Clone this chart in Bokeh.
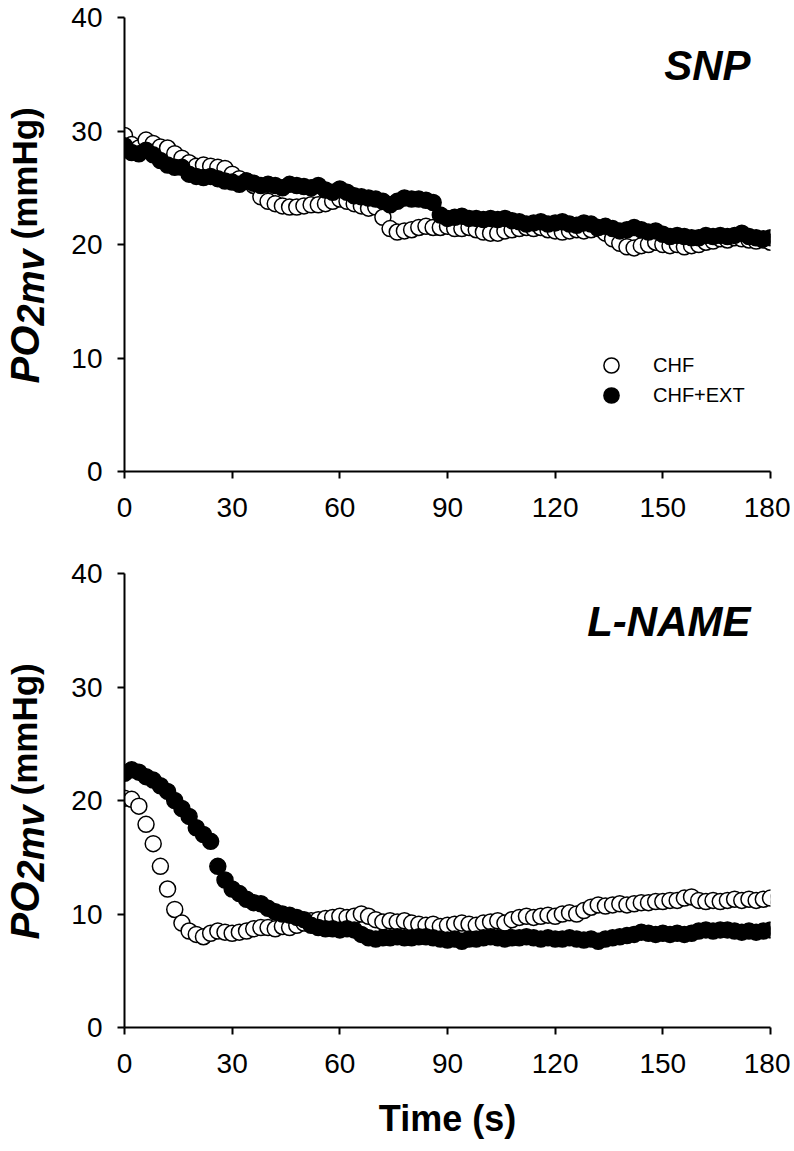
from math import pi
from bokeh.plotting import figure
from bokeh.models import Label, Legend, LegendItem, Range1d, FixedTicker, ColumnDataSource
from bokeh.layouts import column, row
from bokeh.embed import file_html
from bokeh.resources import INLINE

# ---------------- data ----------------
time_s = list(range(0, 181, 2))
x_ticks = [0, 30, 60, 90, 120, 150, 180]
y_ticks = [0, 10, 20, 30, 40]
series_labels = ["CHF", "CHF+EXT"]
panel_titles = ["SNP", "L-NAME"]
x_title = "Time (s)"
y_title_parts = ["PO", "2mv", "(mmHg)"]

snp_chf = [29.6, 28.8, 28.5, 29.2, 28.9, 28.6, 28.5, 28.0, 27.6, 27.2,
           26.9, 27.0, 26.9, 26.8, 26.7, 26.2, 25.8, 25.6, 25.2, 24.2,
           23.8, 23.6, 23.4, 23.3, 23.3, 23.4, 23.5, 23.5, 23.6, 23.8,
           24.0, 23.8, 23.6, 23.4, 23.2, 23.3, 22.4, 21.4, 21.1, 21.2,
           21.3, 21.5, 21.6, 21.5, 21.5, 21.6, 21.4, 21.4, 21.5, 21.3,
           21.1, 21.0, 21.0, 21.2, 21.3, 21.4, 21.5, 21.4, 21.5, 21.3,
           21.2, 21.1, 21.2, 21.3, 21.2, 21.3, 21.4, 21.0, 20.5, 20.1,
           19.8, 19.7, 19.9, 20.0, 20.2, 20.0, 19.9, 20.0, 19.8, 19.9,
           20.0, 20.2, 20.3, 20.5, 20.4, 20.6, 20.5, 20.4, 20.3, 20.4,
           20.2]
snp_chf_ext = [28.7, 28.1, 28.0, 28.3, 27.9, 27.4, 27.0, 26.8, 26.8, 26.2,
               26.0, 25.9, 26.0, 25.8, 25.6, 25.5, 25.3, 25.6, 25.4, 25.2,
               25.3, 25.2, 25.0, 25.3, 25.2, 25.1, 25.0, 25.2, 24.8, 24.6,
               24.9, 24.6, 24.3, 24.2, 24.1, 24.0, 23.8, 23.5, 23.8, 24.1,
               24.0, 24.0, 23.9, 23.7, 22.6, 22.3, 22.4, 22.5, 22.3, 22.3,
               22.2, 22.3, 22.2, 22.3, 22.1, 22.0, 21.8, 21.9, 22.0, 21.8,
               21.9, 22.0, 21.8, 21.7, 21.9, 21.8, 21.5, 21.6, 21.4, 21.2,
               21.3, 21.5, 21.3, 21.1, 21.2, 20.9, 20.7, 20.8, 20.7, 20.6,
               20.6, 20.8, 20.7, 20.8, 20.7, 20.8, 21.0, 20.7, 20.6, 20.5,
               20.6]
lname_chf = [20.2, 20.1, 19.5, 17.9, 16.2, 14.2, 12.2, 10.4, 9.2, 8.5,
             8.2, 8.0, 8.3, 8.5, 8.4, 8.3, 8.4, 8.5, 8.7, 8.8,
             8.8, 8.7, 8.9, 8.8, 9.0, 9.2, 9.4, 9.5, 9.6, 9.7,
             9.8, 9.7, 9.8, 10.0, 9.8, 9.5, 9.3, 9.4, 9.3, 9.4,
             9.2, 9.1, 9.0, 9.1, 8.9, 9.0, 9.1, 9.2, 9.1, 9.0,
             9.2, 9.3, 9.4, 9.2, 9.5, 9.7, 9.8, 9.7, 9.8, 9.9,
             9.8, 10.0, 10.1, 10.0, 10.3, 10.6, 10.8, 10.7, 10.8, 10.9,
             10.8, 10.9, 11.0, 11.0, 11.1, 11.1, 11.2, 11.2, 11.4, 11.5,
             11.2, 11.1, 11.2, 11.1, 11.2, 11.3, 11.2, 11.3, 11.2, 11.3,
             11.4]
lname_chf_ext = [22.4, 22.7, 22.5, 22.1, 21.8, 21.3, 20.8, 20.0, 19.3, 18.6,
                 17.6, 17.0, 16.4, 14.2, 13.0, 12.2, 11.8, 11.3, 11.0, 10.9,
                 10.5, 10.2, 10.0, 9.9, 9.7, 9.5, 9.0, 8.8, 8.7, 8.7,
                 8.6, 8.7, 8.6, 8.2, 7.9, 7.8, 7.9, 7.9, 8.0, 7.9,
                 7.9, 8.0, 8.0, 7.9, 7.8, 7.7, 7.8, 7.6, 7.8, 7.8,
                 7.9, 8.0, 7.9, 7.8, 7.9, 7.9, 8.0, 7.9, 7.8, 7.9,
                 7.8, 7.8, 7.9, 7.8, 7.7, 7.8, 7.6, 7.8, 7.9, 8.0,
                 8.1, 8.2, 8.4, 8.3, 8.2, 8.3, 8.2, 8.3, 8.2, 8.3,
                 8.5, 8.6, 8.5, 8.6, 8.6, 8.5, 8.4, 8.5, 8.4, 8.5,
                 8.6]

SANS = "Liberation Sans"
FRAME_W, FRAME_H = 646, 454
TOP_B = 17
SIDE_W = 60


def y_title_fig(height):
    """Narrow figure (frame aligned with the panel) holding the mixed-style y title."""
    s = figure(width=SIDE_W, height=height, output_backend="svg", toolbar_location=None,
               x_range=Range1d(0, 1), y_range=Range1d(0, 1),
               x_axis_type=None, y_axis_type=None, min_border=0)
    s.outline_line_color = None
    s.grid.visible = False
    center = FRAME_H / 2
    kw = dict(x_units="screen", y_units="screen", angle=pi / 2, text_align="left",
              text_baseline="alphabetic", text_color="black", text_font=SANS)
    s.add_layout(Label(x=24, y=center - 139, text=y_title_parts[0], text_font_size="40px",
                       text_font_style="bold italic", **kw))
    s.add_layout(Label(x=30, y=center - 81, text=y_title_parts[1], text_font_size="38px",
                       text_font_style="bold italic", **kw))
    s.add_layout(Label(x=24, y=center + 5, text=y_title_parts[2], text_font_size="35px",
                       text_font_style="bold", **kw))
    return s


def make_panel(title, chf, ext, bottom_border, with_legend, with_xlabel):
    p = figure(frame_width=FRAME_W, frame_height=FRAME_H, output_backend="svg",
               toolbar_location=None, x_range=Range1d(0, 180), y_range=Range1d(0, 40),
               min_border_left=124 - SIDE_W, min_border_right=20, min_border_top=TOP_B,
               min_border_bottom=bottom_border)
    p.outline_line_color = None
    p.grid.visible = False

    p.xaxis.ticker = FixedTicker(ticks=x_ticks)
    p.yaxis.ticker = FixedTicker(ticks=y_ticks)
    for ax in (p.xaxis, p.yaxis):
        ax.axis_line_width = 2
        ax.axis_line_color = "black"
        ax.major_tick_line_width = 2
        ax.major_tick_line_color = "black"
        ax.major_tick_out = 7
        ax.major_tick_in = 0
        ax.minor_tick_out = 0
        ax.minor_tick_in = 0
        ax.major_label_text_font = SANS
        ax.major_label_text_font_size = "28px"
        ax.major_label_text_color = "black"
    p.xaxis.major_label_standoff = 19
    p.yaxis.major_label_standoff = 15

    src = ColumnDataSource(dict(t=time_s, chf=chf, ext=ext))
    r1 = p.scatter("t", "chf", source=src, size=16, marker="circle",
                   fill_color="white", line_color="black", line_width=1.5)
    r2 = p.scatter("t", "ext", source=src, size=16, marker="circle",
                   fill_color="black", line_color="black", line_width=1.5)

    p.add_layout(Label(x=626, y=406, x_units="screen", y_units="screen", text=title,
                       text_align="right", text_baseline="alphabetic",
                       text_font=SANS, text_font_size="42px",
                       text_font_style="bold italic", text_color="black"))

    if with_legend:
        common = dict(orientation="vertical", glyph_width=38, glyph_height=38,
                      label_standoff=23, padding=0, margin=0,
                      border_line_color=None, background_fill_alpha=0,
                      label_text_font=SANS, label_text_font_size="20px",
                      label_text_color="black")
        p.add_layout(Legend(items=[LegendItem(label=series_labels[0], renderers=[r1])],
                            location=(468, 87), **common))
        p.add_layout(Legend(items=[LegendItem(label=series_labels[1], renderers=[r2])],
                            location=(468, 57), **common))

    if with_xlabel:
        p.xaxis.axis_label = x_title
        p.xaxis.axis_label_text_font = SANS
        p.xaxis.axis_label_text_font_size = "36px"
        p.xaxis.axis_label_text_font_style = "bold"
        p.xaxis.axis_label_text_color = "black"
        p.xaxis.axis_label_standoff = 22
    return p


TOP_BOTTOM_B = 85
BOT_BOTTOM_B = 122
top = make_panel(panel_titles[0], snp_chf, snp_chf_ext, TOP_BOTTOM_B, True, False)
bottom = make_panel(panel_titles[1], lname_chf, lname_chf_ext, BOT_BOTTOM_B, False, True)
top_side = y_title_fig(TOP_B + FRAME_H + TOP_BOTTOM_B)
bottom_side = y_title_fig(TOP_B + FRAME_H + BOT_BOTTOM_B)

layout = column(row(top_side, top, spacing=0), row(bottom_side, bottom, spacing=0), spacing=0)
open("out.html", "w").write(file_html(layout, INLINE))
